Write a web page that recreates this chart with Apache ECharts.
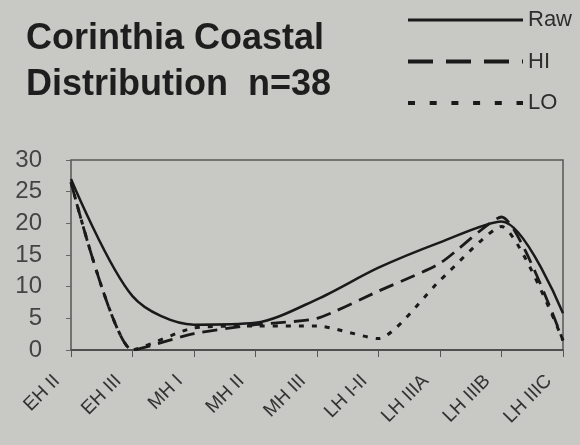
<!DOCTYPE html>
<html>
<head>
<meta charset="utf-8">
<script src="https://cdn.jsdelivr.net/npm/echarts@6/dist/echarts.min.js"></script>
<style>
html,body{margin:0;padding:0;background:#c8c9c5;}
#chart{width:580px;height:445px;}
</style>
</head>
<body>
<div id="chart"></div>
<script>
var titleText = "Corinthia Coastal\nDistribution  n=38";
var categories = ["EH II", "EH III", "MH I", "MH II", "MH III", "LH I-II", "LH IIIA", "LH IIIB", "LH IIIC"];
var seriesNames = ["Raw", "HI", "LO"];
var rawValues = [27, 8.5, 4, 4.3, 8, 13, 17, 20.3, 5.8];
var hiValues  = [26.5, 0, 2.6, 4, 5, 9.3, 13.7, 21, 1.5];
var loValues  = [26.5, 0, 3.5, 3.8, 3.8, 1.8, 11, 19.5, 1.5];
var yTicks = [0, 5, 10, 15, 20, 25, 30];

var ink = "#1a1a1a";
var chart = echarts.init(document.getElementById("chart"), null, {renderer: "canvas"});
chart.setOption({
  backgroundColor: "#c8c9c5",
  animation: false,
  title: {
    text: titleText,
    left: 21,
    top: 11,
    textStyle: {
      fontFamily: "Liberation Sans, Arial, sans-serif",
      fontSize: 36,
      fontWeight: "bold",
      color: "#1e1e1e",
      lineHeight: 46
    }
  },
  legend: {
    orient: "vertical",
    left: 406,
    top: 9,
    padding: 0,
    itemWidth: 115,
    itemHeight: 22,
    itemGap: 19.5,
    textStyle: {
      fontFamily: "Liberation Sans, Arial, sans-serif",
      fontSize: 22,
      lineHeight: 22,
      color: "#2e2e2e"
    },
    data: [
      {name: seriesNames[0], itemStyle: {opacity: 0}, lineStyle: {type: "solid", width: 3, color: ink}},
      {name: seriesNames[1], itemStyle: {opacity: 0}, lineStyle: {type: [25, 13], width: 4, color: ink}},
      {name: seriesNames[2], itemStyle: {opacity: 0}, lineStyle: {type: [7, 14.7], width: 4, color: ink}}
    ]
  },
  grid: {
    left: 71,
    right: 17,
    top: 160,
    bottom: 95,
    show: true,
    borderColor: "#555",
    borderWidth: 1.5,
    backgroundColor: "transparent"
  },
  xAxis: {
    type: "category",
    data: categories,
    boundaryGap: false,
    axisLine: {show: true, lineStyle: {color: "#444", width: 1.5}},
    axisTick: {show: true, length: 7, lineStyle: {color: "#555", width: 1}},
    axisLabel: {
      rotate: 45,
      margin: 14,
      interval: 0,
      padding: [0, 20, 0, 0],
      fontFamily: "Liberation Sans, Arial, sans-serif",
      fontSize: 19,
      color: "#333"
    },
    splitLine: {show: false}
  },
  yAxis: {
    type: "value",
    min: yTicks[0],
    max: yTicks[yTicks.length - 1],
    interval: 5,
    axisLine: {show: false},
    axisTick: {show: true, length: 5, lineStyle: {color: "#666"}},
    splitLine: {show: false},
    axisLabel: {
      margin: 29,
      fontFamily: "Liberation Sans, Arial, sans-serif",
      fontSize: 24,
      color: "#444"
    }
  },
  series: [
    {
      name: seriesNames[0], type: "line", data: rawValues, smooth: 0.3,
      symbol: "none", clip: true,
      lineStyle: {color: ink, width: 2.5, type: "solid"},
      itemStyle: {color: ink}
    },
    {
      name: seriesNames[1], type: "line", data: hiValues, smooth: 0.2,
      symbol: "none", clip: true,
      lineStyle: {color: ink, width: 2.8, type: [15, 8]},
      itemStyle: {color: ink}
    },
    {
      name: seriesNames[2], type: "line", data: loValues, smooth: 0.2,
      symbol: "none", clip: true,
      lineStyle: {color: ink, width: 3, type: [5, 8]},
      itemStyle: {color: ink}
    }
  ]
});
</script>
</body>
</html>
